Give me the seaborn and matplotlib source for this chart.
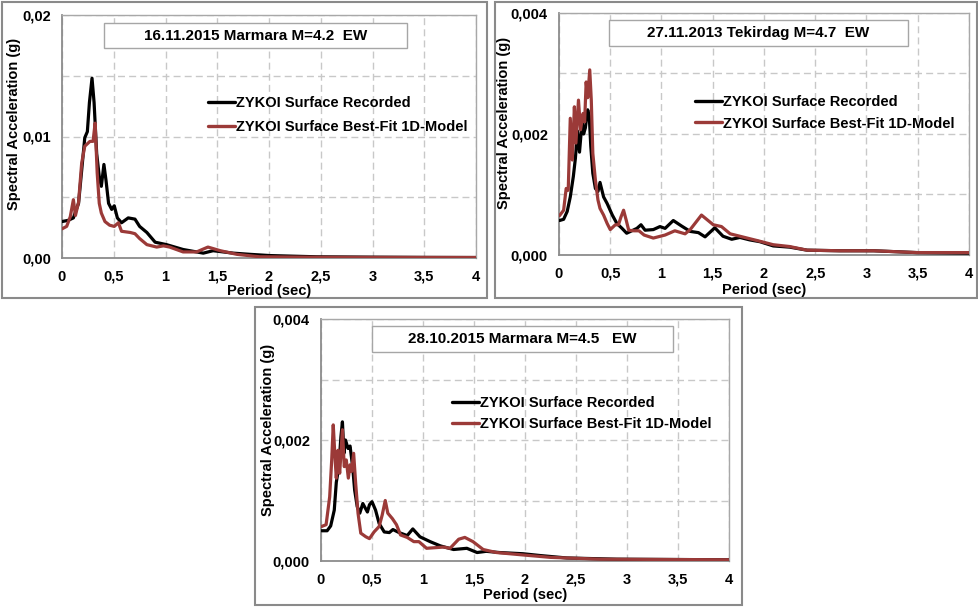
import numpy as np
import pandas as pd
import matplotlib
matplotlib.use("Agg")
import matplotlib.pyplot as plt
from matplotlib.patches import Rectangle
from matplotlib.ticker import MultipleLocator, FuncFormatter
import seaborn as sns

# ---- Response spectra (period in s, spectral acceleration in g) ----
# 16.11.2015 Marmara M=4.2 EW
p1_rec_T = [0.0, 0.06, 0.11, 0.16, 0.19, 0.22, 0.245, 0.265, 0.29, 0.31, 0.335, 0.36, 0.38,
            0.405, 0.425, 0.45, 0.48, 0.505, 0.535, 0.575, 0.64, 0.705, 0.75, 0.82, 0.90,
            1.01, 1.17, 1.365, 1.46, 1.655, 1.82, 2.01, 2.46, 3.0, 3.5, 4.0]
p1_rec_sa = [0.0030, 0.0031, 0.0033, 0.0045, 0.0072, 0.0099, 0.0104, 0.0128, 0.0148, 0.0128,
             0.0086, 0.0067, 0.0059, 0.0077, 0.0064, 0.0045, 0.0040, 0.0043, 0.0033, 0.0029,
             0.0033, 0.0032, 0.0026, 0.0021, 0.0013, 0.0011, 0.0007, 0.0004, 0.0006, 0.0004,
             0.0003, 0.0002, 0.0001, 0.00007, 0.00005, 0.00004]
p1_fit_T = [0.0, 0.045, 0.08, 0.11, 0.13, 0.16, 0.19, 0.22, 0.27, 0.30, 0.32, 0.34, 0.36, 0.38,
            0.415, 0.46, 0.505, 0.545, 0.575, 0.66, 0.705, 0.75, 0.82, 0.915, 0.98, 1.04,
            1.17, 1.30, 1.41, 1.53, 1.69, 1.91, 2.5, 3.0, 4.0]
p1_fit_sa = [0.0024, 0.0026, 0.0034, 0.0048, 0.0035, 0.0046, 0.0078, 0.0092, 0.0096, 0.0096,
             0.0111, 0.0070, 0.0045, 0.0037, 0.0030, 0.0027, 0.0026, 0.0029, 0.0022, 0.0021,
             0.0020, 0.0016, 0.0011, 0.0009, 0.0010, 0.0009, 0.0005, 0.0005, 0.0009, 0.0006,
             0.0003, 0.0001, 0.00006, 0.00005, 0.00004]

# 27.11.2013 Tekirdag M=4.7 EW
p2_rec_T = [0.005, 0.045, 0.08, 0.11, 0.14, 0.16, 0.18, 0.20, 0.225, 0.24, 0.257, 0.28, 0.295,
            0.31, 0.33, 0.355, 0.38, 0.40, 0.435, 0.47, 0.52, 0.565, 0.615, 0.66, 0.71, 0.76,
            0.80, 0.84, 0.92, 0.985, 1.035, 1.115, 1.195, 1.28, 1.36, 1.425, 1.52, 1.60,
            1.685, 1.765, 1.86, 1.96, 2.09, 2.25, 2.42, 2.74, 3.07, 3.49, 4.0]
p2_rec_sa = [0.00057, 0.00059, 0.00072, 0.00096, 0.0013, 0.0016, 0.00205, 0.0017, 0.0022,
             0.0020, 0.0021, 0.0024, 0.0023, 0.0018, 0.00135, 0.0011, 0.00105, 0.0012,
             0.00096, 0.00085, 0.00066, 0.00052, 0.00044, 0.00036, 0.0004, 0.00044, 0.0005,
             0.00041, 0.00042, 0.00047, 0.00044, 0.00057, 0.00048, 0.00039, 0.00037, 0.0003,
             0.00045, 0.00031, 0.00026, 0.00029, 0.00025, 0.00022, 0.00015, 0.00013, 0.00008,
             0.00007, 0.00007, 0.00004, 0.00003]
p2_fit_T = [0.005, 0.045, 0.07, 0.09, 0.11, 0.13, 0.15, 0.165, 0.19, 0.21, 0.235, 0.25, 0.265,
            0.28, 0.30, 0.315, 0.33, 0.355, 0.38, 0.40, 0.435, 0.47, 0.50, 0.55, 0.58, 0.605,
            0.63, 0.655, 0.68, 0.73, 0.78, 0.83, 0.92, 1.035, 1.13, 1.23, 1.28, 1.39, 1.505,
            1.585, 1.67, 1.765, 1.93, 2.09, 2.25, 2.42, 2.74, 3.07, 3.49, 4.0]
p2_fit_sa = [0.00065, 0.00074, 0.0011, 0.00107, 0.00226, 0.00157, 0.00245, 0.00185, 0.00256,
             0.00207, 0.00234, 0.0022, 0.00286, 0.0026, 0.00306, 0.00256, 0.00168, 0.00124,
             0.00091, 0.00077, 0.00066, 0.00052, 0.00042, 0.0005, 0.0005, 0.00063, 0.00074,
             0.00058, 0.00041, 0.0004, 0.0004, 0.00033, 0.00028, 0.00033, 0.0004, 0.00035,
             0.00042, 0.00066, 0.0005, 0.00047, 0.00035, 0.00031, 0.00024, 0.00017, 0.00014,
             0.00008, 0.00007, 0.00007, 0.00004, 0.00004]

# 28.10.2015 Marmara M=4.5 EW
p3_rec_T = [0.005, 0.06, 0.095, 0.13, 0.15, 0.175, 0.195, 0.21, 0.225, 0.24, 0.265, 0.285,
            0.31, 0.33, 0.355, 0.38, 0.41, 0.455, 0.475, 0.50, 0.535, 0.57, 0.62, 0.67, 0.705,
            0.765, 0.845, 0.90, 0.97, 1.07, 1.17, 1.30, 1.43, 1.53, 1.62, 1.75, 1.98, 2.15,
            2.41, 2.90, 4.0]
p3_rec_sa = [0.0005, 0.0005, 0.00058, 0.00084, 0.0013, 0.00156, 0.00205, 0.0023, 0.00178,
             0.0020, 0.00186, 0.0019, 0.00156, 0.00117, 0.0009, 0.00079, 0.00095, 0.00081,
             0.00093, 0.00098, 0.00084, 0.00062, 0.00048, 0.00047, 0.00052, 0.00047, 0.00042,
             0.00053, 0.0004, 0.00032, 0.00025, 0.00019, 0.00021, 0.00014, 0.00016, 0.00014,
             0.00012, 0.00009, 0.00005, 0.00003, 0.00002]
p3_fit_T = [0.005, 0.05, 0.085, 0.105, 0.12, 0.137, 0.15, 0.167, 0.183, 0.21, 0.228, 0.248,
            0.268, 0.285, 0.30, 0.32, 0.34, 0.363, 0.39, 0.44, 0.475, 0.52, 0.57, 0.60, 0.63,
            0.655, 0.70, 0.74, 0.78, 0.845, 0.91, 0.96, 1.035, 1.20, 1.265, 1.35, 1.41, 1.49,
            1.59, 1.72, 1.98, 2.25, 2.74, 4.0]
p3_fit_sa = [0.00057, 0.0006, 0.00106, 0.00167, 0.00225, 0.00172, 0.00137, 0.00183, 0.00145,
             0.00217, 0.00156, 0.00167, 0.00137, 0.00159, 0.00148, 0.00178, 0.00128, 0.00079,
             0.00046, 0.0004, 0.00037, 0.00048, 0.00057, 0.00076, 0.0010, 0.00079, 0.0007,
             0.0006, 0.00043, 0.00039, 0.00032, 0.00032, 0.00021, 0.00023, 0.00021, 0.00036,
             0.00039, 0.00032, 0.00019, 0.00014, 0.0001, 0.00006, 0.00003, 0.00002]

series_names = ["ZYKOI Surface Recorded", "ZYKOI Surface Best-Fit 1D-Model"]
titles = ["16.11.2015 Marmara M=4.2  EW",
          "27.11.2013 Tekirdag M=4.7  EW",
          "28.10.2015 Marmara M=4.5   EW"]
x_label = "Period (sec)"
y_label = "Spectral Acceleration (g)"
y_max = [0.02, 0.004, 0.004]
y_step = [0.01, 0.002, 0.002]
y_decimals = [2, 3, 3]

palette = {series_names[0]: "#000000", series_names[1]: "#9b3a38"}

sns.set_theme(style="white")
plt.rcParams["font.family"] = ["Liberation Sans", "DejaVu Sans"]
plt.rcParams["font.weight"] = "bold"
for key in ("text.color", "axes.labelcolor", "xtick.color", "ytick.color"):
    plt.rcParams[key] = "#000000"

W, H = 979, 607
fig = plt.figure(figsize=(W / 100, H / 100), dpi=100)
fig.patch.set_facecolor("white")


def fx(px):
    return px / W


def fy(py):
    return 1 - py / H


def frame(x0, y0, x1, y1, color, lw, face=None, z=0):
    rect = Rectangle((fx(x0), fy(y1)), fx(x1 - x0), (y1 - y0) / H,
                     transform=fig.transFigure, fill=face is not None,
                     facecolor=face if face else "none",
                     edgecolor=color, linewidth=lw, zorder=z)
    fig.patches.append(rect)
    return rect


# panel geometry in pixels: plot area, outer frame, title box, legend anchor, label positions
panels = [
    dict(area=(62, 15, 476, 258), outer=(2, 2, 487, 298), tbox=(104, 23, 407, 48),
         leg=(208, 96), ylab=(-0.098, 0.551), xlab_y=291),
    dict(area=(559, 13, 969, 255), outer=(495, 2, 977, 298), tbox=(609, 20, 908, 46),
         leg=(695, 95), ylab=(-0.117, 0.545), xlab_y=290),
    dict(area=(321, 319, 729, 561), outer=(255, 307, 742, 605), tbox=(372, 326, 673, 352),
         leg=(452, 396), ylab=(-0.113, 0.541), xlab_y=595),
]
data = [
    (p1_rec_T, p1_rec_sa, p1_fit_T, p1_fit_sa),
    (p2_rec_T, p2_rec_sa, p2_fit_T, p2_fit_sa),
    (p3_rec_T, p3_rec_sa, p3_fit_T, p3_fit_sa),
]
leg_spacing = [0.68, 0.52, 0.5]

grid_kw = dict(color="#c8c8c8", linestyle=(0, (5, 3)), linewidth=1.0)

for i, (geo, (rT, rS, fT, fS)) in enumerate(zip(panels, data)):
    x0, y0, x1, y1 = geo["area"]
    ax = fig.add_axes([fx(x0), fy(y1), fx(x1 - x0), (y1 - y0) / H])

    df = pd.concat([
        pd.DataFrame({"Period": rT, "SA": rS, "Series": series_names[0]}),
        pd.DataFrame({"Period": fT, "SA": fS, "Series": series_names[1]}),
    ], ignore_index=True)
    sns.lineplot(data=df, x="Period", y="SA", hue="Series", palette=palette,
                 estimator=None, sort=False, linewidth=2.3, ax=ax, zorder=3)

    ax.set_xlim(0, 4)
    ax.set_ylim(0, y_max[i])
    ax.xaxis.set_major_locator(MultipleLocator(0.5))
    ax.yaxis.set_major_locator(MultipleLocator(y_step[i]))
    ax.yaxis.set_minor_locator(MultipleLocator(y_step[i] / 2))
    dec = y_decimals[i]
    ax.yaxis.set_major_formatter(FuncFormatter(lambda v, _, d=dec: f"{v:.{d}f}".replace(".", ",")))
    ax.xaxis.set_major_formatter(FuncFormatter(lambda v, _: ("%g" % v).replace(".", ",")))
    ax.tick_params(axis="both", which="both", length=0, labelsize=10.5, colors="#000000")
    ax.tick_params(axis="y", pad=8.0)
    ax.tick_params(axis="x", pad=8.5)
    for lab in ax.get_xticklabels() + ax.get_yticklabels():
        lab.set_fontweight("bold")
    ax.grid(True, which="both", **grid_kw)
    ax.set_axisbelow(True)

    for side in ("top", "right"):
        ax.spines[side].set_color("#a8a8a8")
        ax.spines[side].set_linewidth(1.0)
    for side in ("left", "bottom"):
        ax.spines[side].set_color("#8c8c8c")
        ax.spines[side].set_linewidth(1.3)

    ax.set_xlabel("")
    ax.set_ylabel(y_label, fontsize=10.5, fontweight="bold", color="#000000")
    ax.yaxis.set_label_coords(*geo["ylab"])

    # axis title below the tick labels
    fig.text(fx((x0 + x1) / 2), fy(geo["xlab_y"]), x_label, ha="center", va="center",
             fontsize=10.5, fontweight="bold", color="#000000")

    # legend
    handles, labels = ax.get_legend_handles_labels()
    lx, ly = geo["leg"]
    leg = ax.legend(handles, labels, loc="upper left",
                    bbox_to_anchor=(fx(lx), fy(ly)), bbox_transform=fig.transFigure,
                    frameon=False, borderpad=0, borderaxespad=0, handlelength=1.85,
                    handletextpad=0.05, labelspacing=leg_spacing[i],
                    prop=dict(size=10.5, weight="bold"))
    for ln in leg.get_lines():
        ln.set_linewidth(2.4)
    for t in leg.get_texts():
        t.set_color("#000000")

    # event title box
    bx0, by0, bx1, by1 = geo["tbox"]
    frame(bx0, by0, bx1, by1, "#a6a6a6", 1.0, face="white", z=5)
    fig.text(fx((bx0 + bx1) / 2), fy((by0 + by1) / 2), titles[i], ha="center", va="center",
             fontsize=11, fontweight="bold", color="#000000", zorder=6)

    # chart frame
    ox0, oy0, ox1, oy1 = geo["outer"]
    frame(ox0, oy0, ox1, oy1, "#8a8a8a", 1.5)

fig.savefig("out.png", dpi=100, facecolor="white")
